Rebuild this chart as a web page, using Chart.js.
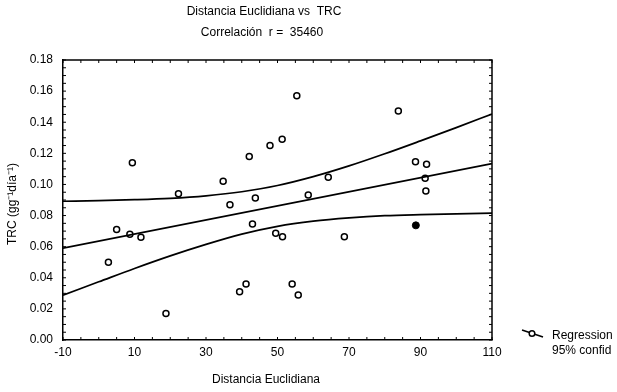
<!DOCTYPE html>
<html>
<head>
<meta charset="utf-8">
<script src="https://cdn.jsdelivr.net/npm/chart.js@4.4.1/dist/chart.umd.min.js"></script>
<style>
html,body{margin:0;padding:0;background:#fff;}
#c{display:block;}
</style>
</head>
<body>
<canvas id="c" width="617" height="392"></canvas>
<script>
// ---- data ----
const pointX = [2.7, 5, 8.7, 9.4, 11.8, 18.8, 22.3, 34.8, 36.7, 39.4, 41.2, 42.1, 43, 43.8, 47.9, 49.5, 51.4, 51.3, 54.1, 55.4, 55.8, 58.6, 64.2, 68.7, 83.8, 88.6, 91.3, 91.5, 91.7];
const pointY = [0.050, 0.071, 0.068, 0.114, 0.066, 0.017, 0.094, 0.102, 0.087, 0.031, 0.036, 0.118, 0.0746, 0.0913, 0.125, 0.0686, 0.0664, 0.129, 0.036, 0.157, 0.029, 0.0932, 0.1046, 0.0664, 0.1472, 0.1146, 0.104, 0.0958, 0.113];
const filledX = [88.7];
const filledY = [0.0737];
const regX = [-10, 110];
const regY = [0.0590, 0.1134];
const bandX = [-10, 0, 10, 20, 30, 40, 50, 60, 70, 80, 90, 100, 110];
const upperY = [0.0892, 0.0896, 0.0902, 0.0911, 0.0927, 0.0953, 0.0993, 0.1050, 0.1119, 0.1197, 0.1280, 0.1365, 0.1453];
const lowerY = [0.0288, 0.0374, 0.0460, 0.0541, 0.0615, 0.0681, 0.0731, 0.0764, 0.0785, 0.0799, 0.0806, 0.0811, 0.0815];
const xTicks = [-10, 10, 30, 50, 70, 90, 110];
const yTicks = [0, 0.02, 0.04, 0.06, 0.08, 0.10, 0.12, 0.14, 0.16, 0.18];
const titleText = "Distancia Euclidiana vs  TRC";
const subtitleText = "Correlación  r =  35460";
const xTitle = "Distancia Euclidiana";
const yTitle = "TRC (gg⁻¹día⁻¹)";
const legendLabels = ["Regression", "95% confid"];

const zip = (xs, ys) => xs.map((x, i) => ({x: x, y: ys[i]}));
const FONT = "'Liberation Sans', Arial, sans-serif";

const decor = {
  id: 'decor',
  afterDraw(chart) {
    const ctx = chart.ctx;
    const a = chart.chartArea;
    const xs = chart.scales.x, ys = chart.scales.y;
    ctx.save();
    ctx.strokeStyle = '#000';
    ctx.lineWidth = 1.5;
    // frame top & right
    ctx.beginPath();
    ctx.moveTo(a.left, a.top); ctx.lineTo(a.right, a.top); ctx.lineTo(a.right, a.bottom);
    ctx.stroke();
    // minor ticks inside on all sides
    ctx.lineWidth = 1;
    ctx.beginPath();
    for (let v = -10; v <= 110; v += 5) {
      const px = xs.getPixelForValue(v);
      ctx.moveTo(px, a.bottom); ctx.lineTo(px, a.bottom - 3);
      ctx.moveTo(px, a.top); ctx.lineTo(px, a.top + 3);
    }
    for (let k = 0; k <= 36; k++) {
      const py = ys.getPixelForValue(k * 0.005);
      ctx.moveTo(a.left, py); ctx.lineTo(a.left + 3, py);
      ctx.moveTo(a.right, py); ctx.lineTo(a.right - 3, py);
    }
    ctx.stroke();
    // titles
    ctx.fillStyle = '#000';
    ctx.font = '12px ' + FONT;
    ctx.textAlign = 'center';
    ctx.textBaseline = 'middle';
    ctx.fillText(titleText, 264, 12);
    ctx.fillText(subtitleText, 262, 33);
    ctx.fillText(xTitle, 266, 380);
    ctx.save();
    ctx.translate(13, 204);
    ctx.rotate(-Math.PI / 2);
    ctx.fillText(yTitle, 0, 0);
    ctx.restore();
    // legend
    ctx.lineWidth = 1.5;
    ctx.beginPath();
    ctx.moveTo(522, 330); ctx.lineTo(543, 337);
    ctx.stroke();
    ctx.beginPath();
    ctx.fillStyle = '#fff';
    ctx.arc(532, 333.5, 2.8, 0, Math.PI * 2);
    ctx.fill(); ctx.stroke();
    ctx.fillStyle = '#000';
    ctx.textAlign = 'left';
    ctx.fillText(legendLabels[0], 552, 336);
    ctx.fillText(legendLabels[1], 552, 351);
    ctx.restore();
  }
};

new Chart(document.getElementById('c'), {
  type: 'scatter',
  data: {
    datasets: [
      {type: 'line', data: zip(regX, regY), borderColor: '#000', borderWidth: 1.7, pointRadius: 0, fill: false, tension: 0},
      {type: 'line', data: zip(bandX, upperY), borderColor: '#000', borderWidth: 1.7, pointRadius: 0, fill: false, cubicInterpolationMode: 'monotone'},
      {type: 'line', data: zip(bandX, lowerY), borderColor: '#000', borderWidth: 1.7, pointRadius: 0, fill: false, cubicInterpolationMode: 'monotone'},
      {data: zip(pointX, pointY), pointRadius: 3, pointBorderWidth: 1.5, borderColor: '#000', backgroundColor: '#fff', pointHoverRadius: 3},
      {data: zip(filledX, filledY), pointRadius: 3.5, pointBorderWidth: 1, borderColor: '#000', backgroundColor: '#000'}
    ]
  },
  options: {
    responsive: false,
    animation: false,
    events: [],
    layout: {padding: {left: 0, right: 125, top: 60, bottom: 0}},
    plugins: {legend: {display: false}, tooltip: {enabled: false}, title: {display: false}},
    scales: {
      x: {
        type: 'linear', min: -10, max: 110,
        afterBuildTicks: s => { s.ticks = xTicks.map(v => ({value: v})); },
        afterFit: s => { s.height = 52; },
        grid: {display: false, drawTicks: false},
        border: {display: true, color: '#000', width: 1.5},
        ticks: {color: '#000', font: {family: FONT, size: 12}, padding: 5, maxRotation: 0, autoSkip: false}
      },
      y: {
        type: 'linear', min: 0, max: 0.18,
        afterBuildTicks: s => { s.ticks = yTicks.map(v => ({value: v})); },
        afterFit: s => { s.width = 63; },
        grid: {display: false, drawTicks: false},
        border: {display: true, color: '#000', width: 1.5},
        ticks: {color: '#000', font: {family: FONT, size: 12}, padding: 10, autoSkip: false,
          callback: v => Number(v).toFixed(2)}
      }
    }
  },
  plugins: [decor]
});
</script>
</body>
</html>
